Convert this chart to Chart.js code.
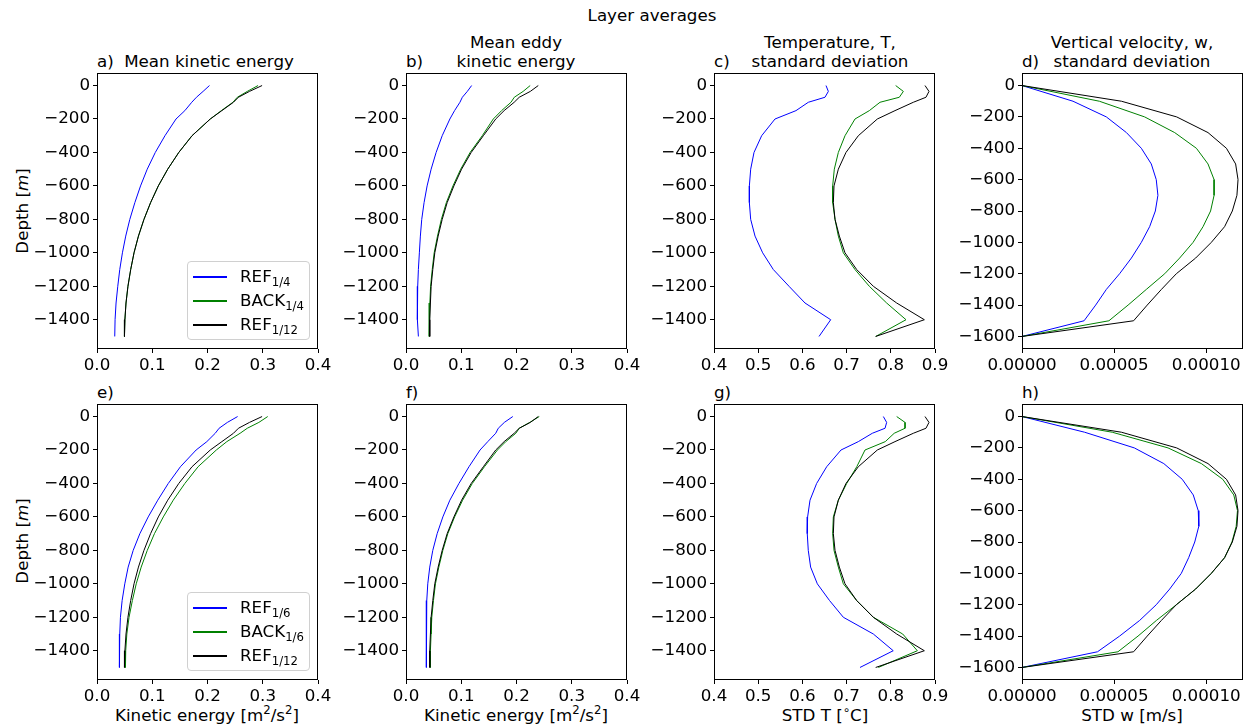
<!DOCTYPE html>
<html>
<head>
<meta charset="utf-8">
<script src="https://cdn.jsdelivr.net/npm/chart.js@4.4.1/dist/chart.umd.min.js"></script>
<style>
  body { margin: 0; background: #fff; }
  #fig { position: relative; width: 1253px; height: 727px; font-family: 'DejaVu Sans', sans-serif; color: #000; }
  #fig canvas { position: absolute; }
  .txt { position: absolute; font-size: 16.7px; line-height: 19px; white-space: nowrap; }
  .ctr { transform: translateX(-50%); text-align: center; }
  .ylab { position: absolute; font-size: 16.7px; white-space: nowrap; transform: translate(-50%, -50%) rotate(-90deg); }
  .legend { position: absolute; border: 1px solid #d0d0d0; border-radius: 4px; background: rgba(255,255,255,0.8); width: 121px; height: 77px; z-index: 5; }
  .legend .row { position: absolute; left: 0; width: 120px; height: 20px; }
  .legend .swatch { position: absolute; left: 5px; width: 34px; height: 1.5px; top: 10px; }
  .legend .lab { position: absolute; left: 52px; top: 0; font-size: 16.7px; line-height: 20px; white-space: nowrap; }
  sub { font-size: 0.7em; vertical-align: -0.3em; line-height: 0; }
</style>
</head>
<body>
<div id="fig">
  <div class="txt ctr" style="left:652px; top:6px;">Layer averages</div>

  <div class="txt" style="left:97px; top:52px;">a)</div>
  <div class="txt ctr" style="left:209px; top:52px;">Mean kinetic energy</div>
  <div class="txt" style="left:406px; top:52px;">b)</div>
  <div class="txt ctr" style="left:516px; top:33px;">Mean eddy<br>kinetic energy</div>
  <div class="txt" style="left:714px; top:52px;">c)</div>
  <div class="txt ctr" style="left:830px; top:33px;">Temperature, T,<br>standard deviation</div>
  <div class="txt" style="left:1022px; top:52px;">d)</div>
  <div class="txt ctr" style="left:1132px; top:33px;">Vertical velocity, w,<br>standard deviation</div>

  <div class="txt" style="left:97px; top:383px;">e)</div>
  <div class="txt" style="left:406px; top:383px;">f)</div>
  <div class="txt" style="left:714px; top:383px;">g)</div>
  <div class="txt" style="left:1022px; top:383px;">h)</div>

  <div class="ylab" style="left:22px; top:211px;">Depth [<i>m</i>]</div>
  <div class="ylab" style="left:22px; top:541px;">Depth [<i>m</i>]</div>

  <div class="txt ctr" style="left:207px; top:706px;">Kinetic energy [m<sup style="font-size:0.7em;line-height:0">2</sup>/s<sup style="font-size:0.7em;line-height:0">2</sup>]</div>
  <div class="txt ctr" style="left:516px; top:706px;">Kinetic energy [m<sup style="font-size:0.7em;line-height:0">2</sup>/s<sup style="font-size:0.7em;line-height:0">2</sup>]</div>
  <div class="txt ctr" style="left:825px; top:706px;">STD T [<sup style="font-size:0.7em;line-height:0">&#8728;</sup>C]</div>
  <div class="txt ctr" style="left:1132px; top:706px;">STD w [m/s]</div>
</div>

<script>
// depth levels
const depthLev = [0, -35, -70, -100, -150, -200, -300, -400, -500, -600, -700, -800, -900, -1000, -1100, -1200, -1300, -1400, -1500];
const depthW = [0, -100, -200, -300, -400, -500, -600, -700, -800, -900, -1000, -1100, -1200, -1300, -1400, -1500, -1600];

// tick labels
const keTicks = [0, 0.1, 0.2, 0.3, 0.4];
const tTicks = [0.4, 0.5, 0.6, 0.7, 0.8, 0.9];
const wTicks = [0, 0.00005, 0.0001];
const depthTicks = [0, -200, -400, -600, -800, -1000, -1200, -1400];
const depthTicksW = [0, -200, -400, -600, -800, -1000, -1200, -1400, -1600];

// mean kinetic energy
const mkeRef12 = [0.2988, 0.276, 0.256, 0.247, 0.226, 0.205, 0.172, 0.148, 0.128, 0.111, 0.097, 0.085, 0.075, 0.067, 0.061, 0.056, 0.0525, 0.0505, 0.0497];
const mkeBack4 = [0.2915, 0.272, 0.254, 0.246, 0.225, 0.205, 0.172, 0.148, 0.128, 0.111, 0.097, 0.085, 0.075, 0.067, 0.061, 0.056, 0.0525, 0.0505, 0.0497];
const mkeRef4 = [0.2036, 0.192, 0.180, 0.1715, 0.159, 0.143, 0.123, 0.1055, 0.0909, 0.0788, 0.0685, 0.0594, 0.052, 0.046, 0.0412, 0.0376, 0.0345, 0.0327, 0.0321];
const mkeRef6 = [0.2545, 0.236, 0.221, 0.214, 0.1988, 0.1794, 0.151, 0.129, 0.11, 0.0927, 0.0776, 0.0655, 0.0564, 0.0503, 0.0455, 0.0424, 0.0412, 0.0406, 0.0406];
const mkeBack6 = [0.309, 0.293, 0.272, 0.259, 0.235, 0.216, 0.183, 0.159, 0.138, 0.12, 0.104, 0.091, 0.08, 0.071, 0.064, 0.058, 0.054, 0.052, 0.0515];

// mean eddy kinetic energy
const ekeRef12 = [0.2394, 0.225, 0.205, 0.1958, 0.1776, 0.1624, 0.14, 0.118, 0.1006, 0.0867, 0.0745, 0.0655, 0.0582, 0.0521, 0.0485, 0.0455, 0.0442, 0.043, 0.043];
const ekeBack4 = [0.2248, 0.212, 0.196, 0.19, 0.173, 0.158, 0.138, 0.116, 0.099, 0.085, 0.073, 0.064, 0.057, 0.051, 0.0475, 0.0445, 0.0432, 0.042, 0.042];
const ekeRef4 = [0.1188, 0.111, 0.102, 0.0976, 0.0879, 0.0794, 0.0655, 0.0545, 0.0455, 0.0382, 0.0327, 0.0285, 0.026, 0.0242, 0.0224, 0.0212, 0.0206, 0.0206, 0.0224];
const ekeRef6 = [0.1933, 0.178, 0.167, 0.1624, 0.148, 0.134, 0.114, 0.0958, 0.0794, 0.0667, 0.0564, 0.0485, 0.043, 0.0394, 0.0376, 0.037, 0.0364, 0.0364, 0.0376];
const ekeBack6 = [0.2412, 0.224, 0.205, 0.1988, 0.1806, 0.1655, 0.142, 0.12, 0.1025, 0.088, 0.0757, 0.0667, 0.0594, 0.0533, 0.0497, 0.0467, 0.0454, 0.0442, 0.0442];

// temperature std
const tRef12 = [0.8774, 0.8864, 0.8796, 0.851, 0.8095, 0.7695, 0.7265, 0.6986, 0.6813, 0.6715, 0.670, 0.6738, 0.6836, 0.6964, 0.7228, 0.7605, 0.8133, 0.8759, 0.7658];
const tBack4 = [0.811, 0.8284, 0.8193, 0.7756, 0.7514, 0.719, 0.6964, 0.6813, 0.6722, 0.6685, 0.6685, 0.6738, 0.6813, 0.6926, 0.719, 0.7514, 0.7906, 0.8344, 0.7658];
const tRef4 = [0.6534, 0.6587, 0.6511, 0.6134, 0.5855, 0.538, 0.5078, 0.4905, 0.483, 0.480, 0.480, 0.483, 0.4928, 0.5101, 0.5342, 0.5697, 0.6059, 0.6640, 0.6376];
const tRef6 = [0.7831, 0.7906, 0.787, 0.7582, 0.7265, 0.6873, 0.655, 0.6322, 0.6172, 0.6118, 0.611, 0.6133, 0.6186, 0.6338, 0.6614, 0.6926, 0.7605, 0.8055, 0.7303];
const tBack6 = [0.8133, 0.8322, 0.8322, 0.8077, 0.7875, 0.7416, 0.723, 0.7002, 0.6813, 0.670, 0.6685, 0.6715, 0.6813, 0.6926, 0.7228, 0.7605, 0.8269, 0.86, 0.7718];

// vertical velocity std
const wRef12 = [0, 5.4e-5, 8.4e-5, 1.01e-4, 1.11e-4, 1.16e-4, 1.173e-4, 1.167e-4, 1.142e-4, 1.10e-4, 1.028e-4, 9.43e-5, 8.38e-5, 7.57e-5, 6.8e-5, 6.06e-5, 0];
const wBack4 = [0, 4.2e-5, 6.66e-5, 8.29e-5, 9.47e-5, 1.01e-4, 1.043e-4, 1.043e-4, 1.024e-4, 9.83e-5, 9.29e-5, 8.56e-5, 7.75e-5, 6.75e-5, 5.76e-5, 4.72e-5, 0];
const wRef4 = [0, 2.77e-5, 4.58e-5, 5.67e-5, 6.48e-5, 7.02e-5, 7.29e-5, 7.38e-5, 7.24e-5, 6.93e-5, 6.48e-5, 5.94e-5, 5.30e-5, 4.58e-5, 4.0e-5, 3.37e-5, 0];
const wRef6 = [0, 3.4e-5, 6.1e-5, 7.7e-5, 8.7e-5, 9.3e-5, 9.57e-5, 9.6e-5, 9.38e-5, 9.05e-5, 8.65e-5, 8.02e-5, 7.29e-5, 6.39e-5, 5.3e-5, 4.1e-5, 0];
const wBack6 = [0, 4.9e-5, 7.93e-5, 9.74e-5, 1.09e-4, 1.15e-4, 1.17e-4, 1.163e-4, 1.14e-4, 1.10e-4, 1.028e-4, 9.43e-5, 8.38e-5, 7.3e-5, 6.3e-5, 5.21e-5, 0];

Chart.defaults.color = '#000';
Chart.defaults.font.family = "'DejaVu Sans', sans-serif";
Chart.defaults.font.size = 16.7;

const PAD_L = 85, PAD_T = 15, PAD_R = 45, PAD_B = 40;

const framePlugin = {
    id: 'frame',
    afterDatasetsDraw(chart) {
        const a = chart.chartArea;
        const ctx = chart.ctx;
        ctx.save();
        ctx.strokeStyle = '#000';
        ctx.lineWidth = 1;
        ctx.strokeRect(Math.round(a.left) + 0.5, Math.round(a.top) + 0.5, Math.round(a.right - a.left) - 1, Math.round(a.bottom - a.top) - 1);
        ctx.restore();
    }
};

function pts(xs, ys) {
    return xs.map((v, i) => ({ x: v, y: ys[i] }));
}

function fmtMinus(v) {
    return v < 0 ? '\u2212' + Math.abs(v) : String(v);
}

function makePanel(left, top, w, h, xMin, xMax, xTicks, dec, yMin, yMax, yTicks, depth, series) {
    const canvas = document.createElement('canvas');
    const cw = PAD_L + w + PAD_R, chh = PAD_T + h + PAD_B;
    canvas.width = cw;
    canvas.height = chh;
    canvas.style.left = (left - PAD_L) + 'px';
    canvas.style.top = (top - PAD_T) + 'px';
    document.getElementById('fig').appendChild(canvas);

    new Chart(canvas.getContext('2d'), {
        type: 'scatter',
        data: {
            datasets: series.map(s => ({
                data: pts(s[0], depth),
                showLine: true,
                borderColor: s[1],
                borderWidth: 1,
                pointRadius: 0,
                fill: false
            }))
        },
        options: {
            responsive: false,
            animation: false,
            layout: { padding: { left: 0, top: PAD_T, right: PAD_R, bottom: 0 } },
            plugins: { legend: { display: false }, tooltip: { enabled: false } },
            scales: {
                x: {
                    type: 'linear', min: xMin, max: xMax,
                    afterBuildTicks: sc => { sc.ticks = xTicks.map(v => ({ value: v })); },
                    afterFit: sc => { sc.height = PAD_B; },
                    ticks: { autoSkip: false, maxRotation: 0, padding: 3, callback: v => Number(v).toFixed(dec) },
                    grid: { drawOnChartArea: false, drawTicks: true, tickLength: 4, color: '#000' },
                    border: { display: false }
                },
                y: {
                    type: 'linear', min: yMin, max: yMax,
                    afterBuildTicks: sc => { sc.ticks = yTicks.map(v => ({ value: v })); },
                    afterFit: sc => { sc.width = PAD_L; },
                    ticks: { autoSkip: false, padding: 3, callback: v => fmtMinus(v) },
                    grid: { drawOnChartArea: false, drawTicks: true, tickLength: 4, color: '#000' },
                    border: { display: false }
                }
            }
        },
        plugins: [framePlugin]
    });
}

const colLeft = [97, 406, 714, 1022];
const PW = 221;
const rowTop = [73, 404];
const PH = 276;

// top row
makePanel(colLeft[0], rowTop[0], PW, PH, 0, 0.4, keTicks, 1, -1575, 75, depthTicks, depthLev,
    [[mkeRef12, '#000000'], [mkeBack4, '#008000'], [mkeRef4, '#0000ff']]);
makePanel(colLeft[1], rowTop[0], PW, PH, 0, 0.4, keTicks, 1, -1575, 75, depthTicks, depthLev,
    [[ekeRef12, '#000000'], [ekeBack4, '#008000'], [ekeRef4, '#0000ff']]);
makePanel(colLeft[2], rowTop[0], PW, PH, 0.4, 0.9, tTicks, 1, -1575, 75, depthTicks, depthLev,
    [[tRef12, '#000000'], [tBack4, '#008000'], [tRef4, '#0000ff']]);
makePanel(colLeft[3], rowTop[0], PW, PH, 0, 0.00012, wTicks, 5, -1680, 80, depthTicksW, depthW,
    [[wRef12, '#000000'], [wBack4, '#008000'], [wRef4, '#0000ff']]);

// bottom row
makePanel(colLeft[0], rowTop[1], PW, PH, 0, 0.4, keTicks, 1, -1575, 75, depthTicks, depthLev,
    [[mkeRef12, '#000000'], [mkeBack6, '#008000'], [mkeRef6, '#0000ff']]);
makePanel(colLeft[1], rowTop[1], PW, PH, 0, 0.4, keTicks, 1, -1575, 75, depthTicks, depthLev,
    [[ekeRef12, '#000000'], [ekeBack6, '#008000'], [ekeRef6, '#0000ff']]);
makePanel(colLeft[2], rowTop[1], PW, PH, 0.4, 0.9, tTicks, 1, -1575, 75, depthTicks, depthLev,
    [[tRef12, '#000000'], [tBack6, '#008000'], [tRef6, '#0000ff']]);
makePanel(colLeft[3], rowTop[1], PW, PH, 0, 0.00012, wTicks, 5, -1680, 80, depthTicksW, depthW,
    [[wRef12, '#000000'], [wBack6, '#008000'], [wRef6, '#0000ff']]);

// legends (html, for subscripts)
const legendColors = ['#0000ff', '#008000', '#000000'];
const legendRowTop = [4, 28, 52];
function addLegend(left, top, labels) {
    const box = document.createElement('div');
    box.className = 'legend';
    box.style.left = left + 'px';
    box.style.top = top + 'px';
    labels.forEach((lab, i) => {
        const row = document.createElement('div');
        row.className = 'row';
        row.style.top = legendRowTop[i] + 'px';
        const sw = document.createElement('div');
        sw.className = 'swatch';
        sw.style.backgroundColor = legendColors[i];
        const tx = document.createElement('div');
        tx.className = 'lab';
        tx.innerHTML = lab;
        row.appendChild(sw);
        row.appendChild(tx);
        box.appendChild(row);
    });
    document.getElementById('fig').appendChild(box);
}
addLegend(187, 261, ['REF<sub>1/4</sub>', 'BACK<sub>1/4</sub>', 'REF<sub>1/12</sub>']);
addLegend(187, 592, ['REF<sub>1/6</sub>', 'BACK<sub>1/6</sub>', 'REF<sub>1/12</sub>']);
</script>
</body>
</html>
